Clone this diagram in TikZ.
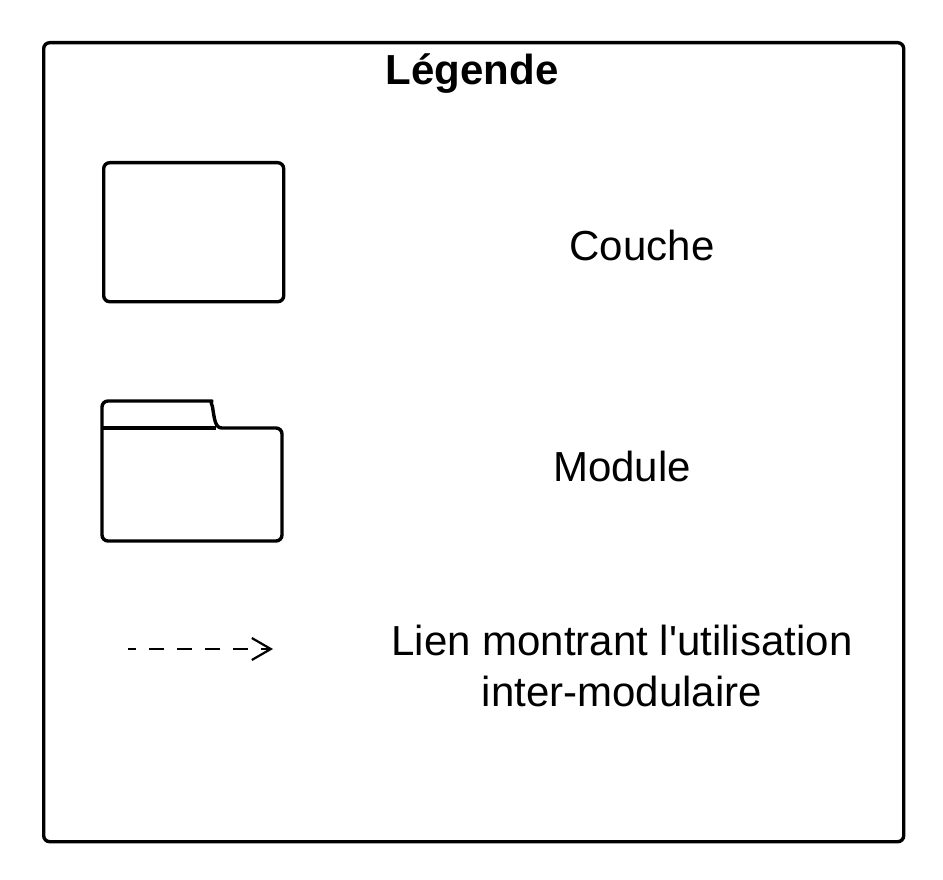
\documentclass[tikz,border=0pt]{standalone}
\usepackage{fontspec}
\setmainfont{Liberation Sans}
\usetikzlibrary{arrows.meta}
\begin{document}
\begin{tikzpicture}[x=1pt,y=-1pt,
  frame/.style={draw=black,line width=3.4pt,rounded corners=6pt},
  lbl/.style={font=\fontsize{42}{50.5}\selectfont,align=center,inner sep=0pt},
  uselink/.style={line width=2.2pt,dash pattern=on 15pt off 13pt,dash phase=7pt,-{Straight Barb[length=19pt,width=22pt,line width=2.2pt]}}]
\useasboundingbox (0,0) rectangle (943,880);
% outer legend frame
\node[frame,minimum width=860pt,minimum height=799pt,inner sep=0pt,anchor=north west] (legend) at (42,41) {};
\node[lbl,font=\fontsize{42}{50.5}\selectfont\bfseries] (title) at (472,74) {Légende};
% Couche
\node[frame,minimum width=180pt,minimum height=139pt,inner sep=0pt,anchor=north west] (couche) at (102,161) {};
\node[lbl] (couchetxt) at (642,245) {Couche};
% Module (folder)
\node[inner sep=0pt,minimum width=180pt,minimum height=140pt,anchor=north west] (module) at (102,401) {};
\draw[line width=3.4pt,line join=round]
  (206,401) .. controls (210,401) and (211.5,403) .. (212.5,407)
  .. controls (214.5,419) and (215,428) .. (222,428)
  [rounded corners=6pt] -- (282,428) -- (282,541) -- (102,541) -- (102,401) -- cycle;
\draw[line width=3.4pt] (102,428) -- (216,428);
\node[lbl] (moduletxt) at (622,466) {Module};
% link
\coordinate (linkA) at (128,649);
\coordinate (linkB) at (273,649);
\draw[uselink] (linkA) -- (linkB);
\node[lbl] (linktxt) at (622,666) {Lien montrant l\textquotesingle utilisation\\inter-modulaire};
\end{tikzpicture}
\end{document}
